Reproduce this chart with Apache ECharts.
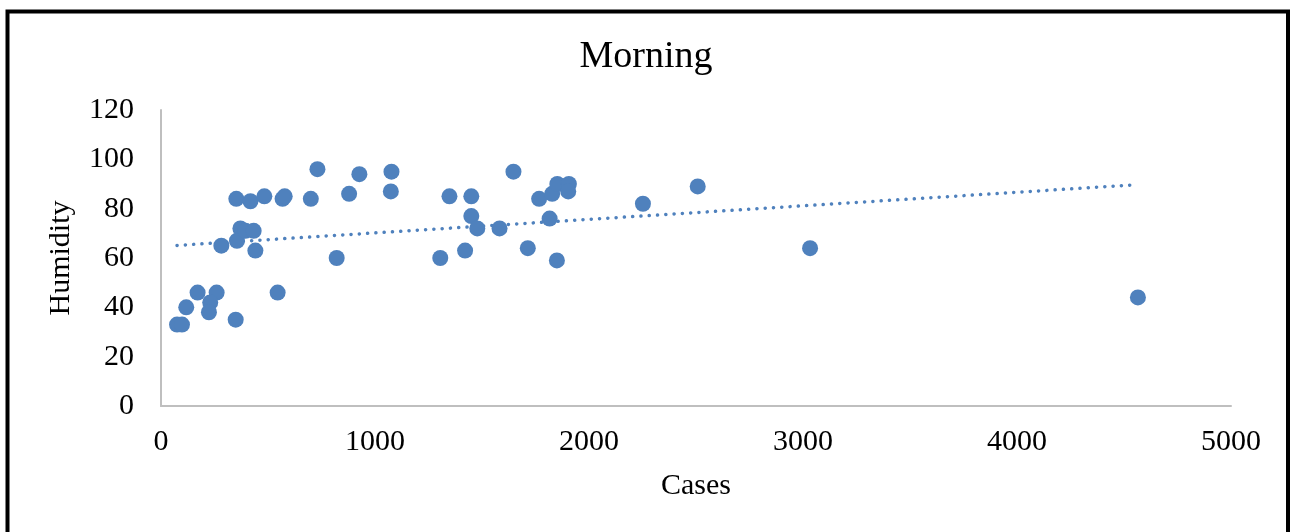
<!DOCTYPE html>
<html>
<head>
<meta charset="utf-8">
<script src="https://cdn.jsdelivr.net/npm/echarts@6/dist/echarts.min.js"></script>
<style>
html,body{margin:0;padding:0;background:#fff;}
#c{width:1292px;height:532px;}
</style>
</head>
<body>
<div id="c"></div>
<script>
const titleText = 'Morning';
const xName = 'Cases';
const yName = 'Humidity';
const cases = [75, 98, 118, 171, 260, 230, 224, 349, 282, 355, 371, 395, 433, 441, 352, 418, 483, 568, 578, 545, 700, 731, 821, 879, 927, 1077, 1074, 1305, 1348, 1421, 1450, 1450, 1478, 1582, 1647, 1714, 1767, 1828, 1852, 1906, 1903, 1816, 1850, 2252, 2508, 3033, 4565];
const humidity = [33, 33, 40, 46, 46, 42, 38, 35, 65, 67, 72, 71, 71, 63, 84, 83, 85, 84, 85, 46, 84, 96, 60, 86, 94, 95, 87, 60, 85, 63, 85, 77, 72, 72, 95, 64, 84, 86, 90, 90, 87, 76, 59, 82, 89, 64, 44];
const trendX = [75, 4556];
const trendY = [65.1, 89.7];

const font = '"Liberation Serif", "Times New Roman", serif';
const blue = '#4F81BD';

const chart = echarts.init(document.getElementById('c'), null, {renderer: 'canvas'});
chart.setOption({
  animation: false,
  backgroundColor: '#fff',
  title: {
    text: titleText,
    left: 'center',
    top: 33,
    textStyle: {fontFamily: font, fontSize: 38, fontWeight: 'normal', color: '#000'}
  },
  grid: {left: 161, right: 61, top: 110, bottom: 126, containLabel: false},
  xAxis: {
    type: 'value', min: 0, max: 5000, interval: 1000,
    name: xName, nameLocation: 'middle', nameGap: 65,
    nameTextStyle: {fontFamily: font, fontSize: 30, color: '#000'},
    axisLine: {show: true, lineStyle: {color: '#BFBFBF', width: 2}},
    axisTick: {show: false},
    splitLine: {show: false},
    axisLabel: {fontFamily: font, fontSize: 30, color: '#000', margin: 21,
      formatter: v => String(v)}
  },
  yAxis: {
    type: 'value', min: 0, max: 120, interval: 20,
    name: yName, nameLocation: 'middle', nameGap: 85, nameRotate: 90,
    nameTextStyle: {fontFamily: font, fontSize: 30, color: '#000'},
    axisLine: {show: true, lineStyle: {color: '#BFBFBF', width: 2}},
    axisTick: {show: false},
    splitLine: {show: false},
    axisLabel: {fontFamily: font, fontSize: 30, color: '#000', margin: 27,
      formatter: v => String(v)}
  },
  graphic: [{
    type: 'rect', silent: true, z: 100,
    shape: {x: 7.5, y: 11.5, width: 1280.5, height: 540},
    style: {fill: 'none', stroke: '#000', lineWidth: 4}
  }],
  series: [{
    type: 'line',
    z: 1,
    showSymbol: false,
    symbol: 'none',
    data: trendX.map((x, i) => [x, trendY[i]]),
    lineStyle: {color: blue, width: 3.5, type: [0.1, 8.2], cap: 'round'}
  }, {
    type: 'scatter',
    z: 2,
    symbol: 'circle',
    symbolSize: 16,
    data: cases.map((x, i) => [x, humidity[i]]),
    itemStyle: {color: blue, opacity: 1}
  }]
});
</script>
</body>
</html>
